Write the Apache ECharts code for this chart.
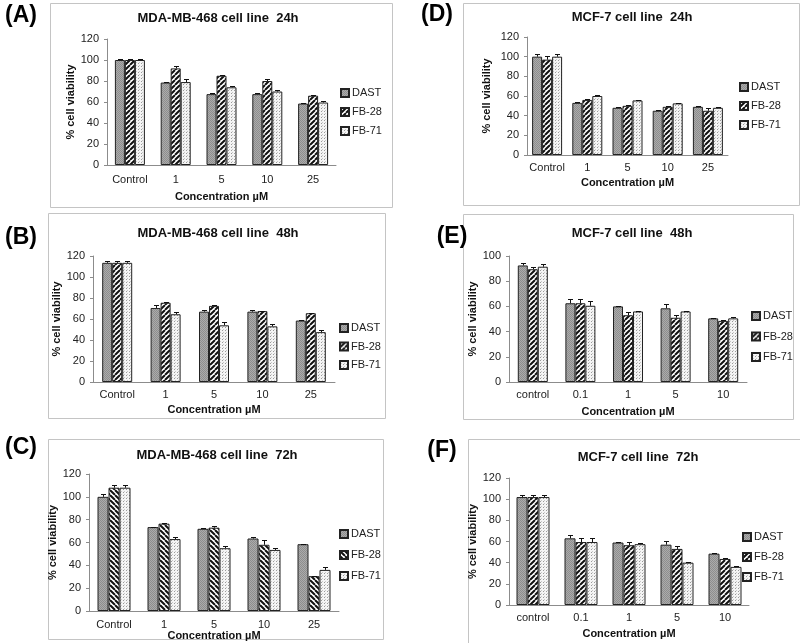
<!DOCTYPE html>
<html>
<head>
<meta charset="utf-8">
<script src="https://cdn.jsdelivr.net/npm/echarts@6/dist/echarts.min.js"></script>
<style>
html, body { margin: 0; padding: 0; background: #fff; }
#chart { width: 800px; height: 643px; }
</style>
</head>
<body>
<div id="chart"></div>
<script>
// ================* DATA *
var seriesNames = ['DAST', 'FB-28', 'FB-71'];
var catsMDA = ['Control', '1', '5', '10', '25'];
var catsMCF24 = ['Control', '1', '5', '10', '25'];
var catsMCF = ['control', '0.1', '1', '5', '10'];

// (A) MDA-MB-468 24h
var a_dast = [100, 78.5, 67.5, 67.5, 58.5];
var a_fb28 = [100, 92, 85, 80, 66];
var a_fb71 = [100, 79, 74, 70, 59.5];
var a_err_dast = [0.5, 1, 1, 1, 0.5];
var a_err_fb28 = [0.5, 2.5, 0.8, 2, 1];
var a_err_fb71 = [0.5, 2.5, 1.5, 1, 1.5];

// (B) MDA-MB-468 48h
var b_dast = [113.5, 70.5, 67, 67, 58.5];
var b_fb28 = [113.5, 75.5, 72.5, 67.5, 65.5];
var b_fb71 = [113.5, 64.5, 54, 53, 47.5];
var b_err_dast = [2, 3, 2, 1.5, 0.5];
var b_err_fb28 = [2, 0.5, 0.5, 0.5, 0.5];
var b_err_fb71 = [2, 2.5, 3, 2.5, 2.5];

// (C) MDA-MB-468 72h
var c_dast = [100, 73.5, 72, 63.5, 58.5];
var c_fb28 = [108, 76.5, 73, 58, 30.5];
var c_fb71 = [108, 63, 55, 53.5, 36];
var c_err_dast = [2.5, 0.5, 1, 1, 0.5];
var c_err_fb28 = [2.5, 1, 1.5, 4, 0.5];
var c_err_fb71 = [2.5, 1.5, 2, 1.5, 2.5];

// (D) MCF-7 24h
var d_dast = [100, 53, 48, 45, 49];
var d_fb28 = [97, 56, 50, 49, 45];
var d_fb71 = [100, 60, 55.5, 52.5, 48];
var d_err_dast = [2.5, 1, 0.8, 0.5, 0.8];
var d_err_fb28 = [3.5, 0.5, 0.5, 0.5, 3];
var d_err_fb71 = [2.5, 1, 0.5, 0.8, 0.5];

// (E) MCF-7 48h
var e_dast = [92.5, 62.5, 60, 58.5, 50.5];
var e_fb28 = [89.5, 62.5, 53, 51, 48.5];
var e_fb71 = [91.5, 60.5, 56, 56, 50.5];
var e_err_dast = [2, 3, 0.5, 3.5, 0.5];
var e_err_fb28 = [2, 3.5, 2.5, 2.5, 0.5];
var e_err_fb71 = [2, 3.5, 0.5, 0.5, 1];

// (F) MCF-7 72h
var f_dast = [102, 63, 59, 57, 48.5];
var f_fb28 = [102, 59.5, 56.5, 53, 43.5];
var f_fb71 = [102, 59.5, 57.5, 40, 36];
var f_err_dast = [1.5, 3, 0.5, 3.5, 0.5];
var f_err_fb28 = [1.5, 3.5, 3, 2.5, 1];
var f_err_fb71 = [1.5, 3.5, 1, 0.3, 1];

var FONT = '"Liberation Sans", Arial, sans-serif';

// ---- fill patterns (like the excel hatch fills)
function makePattern(kind) {
    var c = document.createElement('canvas');
    var ctx;
    if (kind == 'gray') {
        c.width = 2; c.height = 2;
        ctx = c.getContext('2d');
        ctx.fillStyle = '#ababab'; ctx.fillRect(0, 0, 2, 2);
        ctx.fillStyle = '#8e8e8e'; ctx.fillRect(0, 0, 1, 1); ctx.fillRect(1, 1, 1, 1);
    } else if (kind == 'dots') {
        c.width = 3; c.height = 3;
        ctx = c.getContext('2d');
        ctx.fillStyle = '#f4f4f4'; ctx.fillRect(0, 0, 3, 3);
        ctx.fillStyle = '#9a9a9a'; ctx.fillRect(0, 0, 1, 1);
        ctx.fillStyle = '#c8c8c8'; ctx.fillRect(1, 2, 1, 1);
    } else {
        // diagonal stripes, '/' or '\'
        c.width = 5; c.height = 5;
        ctx = c.getContext('2d');
        ctx.fillStyle = '#fff'; ctx.fillRect(0, 0, 5, 5);
        ctx.strokeStyle = '#111'; ctx.lineWidth = 2;
        ctx.beginPath();
        [-5, 0, 5].forEach(function (k) {
            if (kind == 'slash') { ctx.moveTo(k, 5); ctx.lineTo(k + 5, 0); }
            else { ctx.moveTo(k, 0); ctx.lineTo(k + 5, 5); }
        });
        ctx.stroke();
    }
    return { image: c, repeat: 'repeat' };
}
var patGray = makePattern('gray');
var patDots = makePattern('dots');
var patSlash = makePattern('slash');
var patBack = makePattern('back');

// ---- panels (layout only, values come from the arrays above)
var panels = [
    { id: 'A', title: 'MDA-MB-468 cell line  24h', cats: catsMDA, max: 120,
      vals: [a_dast, a_fb28, a_fb71], errs: [a_err_dast, a_err_fb28, a_err_fb71], stripe: patSlash,
      box: [50, 3, 342, 204], label: [21, 16], titlePos: [218, 18],
      grid: [107, 39, 229, 126], barW: 10, yGap: 31, xGap: 26, lblMargin: 9,
      legend: [335, 82, 7] },
    { id: 'D', title: 'MCF-7 cell line  24h', cats: catsMCF24, max: 120,
      vals: [d_dast, d_fb28, d_fb71], errs: [d_err_dast, d_err_fb28, d_err_fb71], stripe: patSlash,
      box: [463, 3, 336, 202], label: [437, 15], titlePos: [632, 17],
      grid: [527, 37, 201, 118], barW: 10, yGap: 35, xGap: 22, lblMargin: 7,
      legend: [734, 76, 7] },
    { id: 'B', title: 'MDA-MB-468 cell line  48h', cats: catsMDA, max: 120,
      vals: [b_dast, b_fb28, b_fb71], errs: [b_err_dast, b_err_fb28, b_err_fb71], stripe: patSlash,
      box: [48, 213, 337, 205], label: [21, 238], titlePos: [218, 233],
      grid: [93, 256, 242, 126], barW: 10, yGap: 29, xGap: 22, lblMargin: 7,
      legend: [334, 317, 6.5] },
    { id: 'E', title: 'MCF-7 cell line  48h', cats: catsMCF, max: 100,
      vals: [e_dast, e_fb28, e_fb71], errs: [e_err_dast, e_err_fb28, e_err_fb71], stripe: patSlash,
      box: [463, 214, 330, 205], label: [452, 237], titlePos: [632, 233],
      grid: [509, 256, 238, 126], barW: 10, yGap: 30, xGap: 24, lblMargin: 7,
      legend: [746, 305, 8.5] },
    { id: 'C', title: 'MDA-MB-468 cell line  72h', cats: catsMDA, max: 120,
      vals: [c_dast, c_fb28, c_fb71], errs: [c_err_dast, c_err_fb28, c_err_fb71], stripe: patBack,
      box: [48, 439, 335, 200], label: [21, 448], titlePos: [217, 455],
      grid: [89, 474, 250, 137], barW: 11, yGap: 23, xGap: 19, lblMargin: 8,
      legend: [334, 523, 9] },
    { id: 'F', title: 'MCF-7 cell line  72h', cats: catsMCF, max: 120,
      vals: [f_dast, f_fb28, f_fb71], errs: [f_err_dast, f_err_fb28, f_err_fb71], stripe: patSlash,
      box: [468, 439, 340, 210], label: [442, 451], titlePos: [638, 457],
      grid: [509, 478, 240, 127], barW: 11, yGap: 27, xGap: 23, lblMargin: 7,
      legend: [737, 526, 8] }
];

// error bar drawn on top of each bar (plus side only, like the original)
function errRender(offset, barW) {
    return function (params, api) {
        var i = api.value(0);
        var lo = api.coord([i, api.value(1)]);
        var hi = api.coord([i, api.value(2)]);
        var x = Math.round(lo[0] + offset * barW) + 0.5;
        var y = Math.round(hi[1]) + 0.5;
        var st = { stroke: '#111', lineWidth: 1 };
        return {
            type: 'group',
            children: [
                { type: 'line', shape: { x1: x, y1: lo[1], x2: x, y2: y }, style: st },
                { type: 'line', shape: { x1: x - 2.5, y1: y, x2: x + 2.5, y2: y }, style: st }
            ]
        };
    };
}

var grids = [], xAxes = [], yAxes = [], legends = [], series = [], graphics = [];

panels.forEach(function (p, pi) {
    var fills = [patGray, p.stripe, patDots];
    grids.push({ left: p.grid[0], top: p.grid[1], width: p.grid[2], height: p.grid[3] });
    xAxes.push({
        gridIndex: pi, type: 'category', data: p.cats,
        axisLine: { lineStyle: { color: '#8c8c8c', width: 1 } },
        axisTick: { show: false },
        axisLabel: { interval: 0, fontSize: 11, fontFamily: FONT, color: '#222', margin: p.lblMargin },
        name: 'Concentration µM', nameLocation: 'middle', nameGap: p.xGap,
        nameTextStyle: { fontSize: 11, fontWeight: 'bold', fontFamily: FONT, color: '#111' }
    });
    yAxes.push({
        gridIndex: pi, type: 'value', min: 0, max: p.max, interval: 20,
        axisLine: { show: true, lineStyle: { color: '#8c8c8c', width: 1 } },
        axisTick: { show: true, length: 3, lineStyle: { color: '#8c8c8c' } },
        splitLine: { show: false },
        axisLabel: { fontSize: 11, fontFamily: FONT, color: '#222', margin: 8 },
        name: '% cell viability', nameLocation: 'middle', nameGap: p.yGap,
        nameTextStyle: { fontSize: 11, fontWeight: 'bold', fontFamily: FONT, color: '#111' }
    });
    var names = [];
    seriesNames.forEach(function (sn, si) {
        var nm = sn + '|' + p.id;
        names.push(nm);
        series.push({
            name: nm, type: 'bar', xAxisIndex: pi, yAxisIndex: pi,
            barWidth: p.barW, barGap: '0%',
            itemStyle: { color: fills[si], borderColor: '#222', borderWidth: 1 },
            data: p.vals[si],
            silent: true, animation: false
        });
    });
    seriesNames.forEach(function (sn, si) {
        series.push({
            type: 'custom', xAxisIndex: pi, yAxisIndex: pi, z: 5,
            renderItem: errRender(si - 1, p.barW),
            encode: { x: 0, y: [1, 2] },
            data: p.vals[si].map(function (v, i) { return [i, v, v + p.errs[si][i]]; }),
            silent: true, animation: false
        });
    });
    legends.push({
        orient: 'vertical', left: p.legend[0], top: p.legend[1], itemGap: p.legend[2],
        itemWidth: 8, itemHeight: 8, icon: 'rect', selectedMode: false,
        data: names,
        formatter: function (n) { return n.split('|')[0]; },
        textStyle: { fontSize: 11, fontFamily: FONT, color: '#222', lineHeight: 12, padding: [0, 0, 0, -2] }
    });
    // frame, panel letter and title
    graphics.push({
        type: 'rect', silent: true,
        shape: { x: p.box[0] + 0.5, y: p.box[1] + 0.5, width: p.box[2], height: p.box[3] },
        style: { fill: 'none', stroke: '#c4c4c4', lineWidth: 1 }
    });
    graphics.push({
        type: 'text', x: p.label[0], y: p.label[1], silent: true,
        style: { text: '(' + p.id + ')', font: 'bold 23px ' + FONT, fill: '#000', align: 'center', verticalAlign: 'middle' }
    });
    graphics.push({
        type: 'text', x: p.titlePos[0], y: p.titlePos[1], silent: true,
        style: { text: p.title, font: 'bold 13px ' + FONT, fill: '#111', align: 'center', verticalAlign: 'middle' }
    });
});

var chart = echarts.init(document.getElementById('chart'));
chart.setOption({
    backgroundColor: '#fff',
    animation: false,
    grid: grids,
    xAxis: xAxes,
    yAxis: yAxes,
    legend: legends,
    graphic: graphics,
    series: series
});
</script>
</body>
</html>
